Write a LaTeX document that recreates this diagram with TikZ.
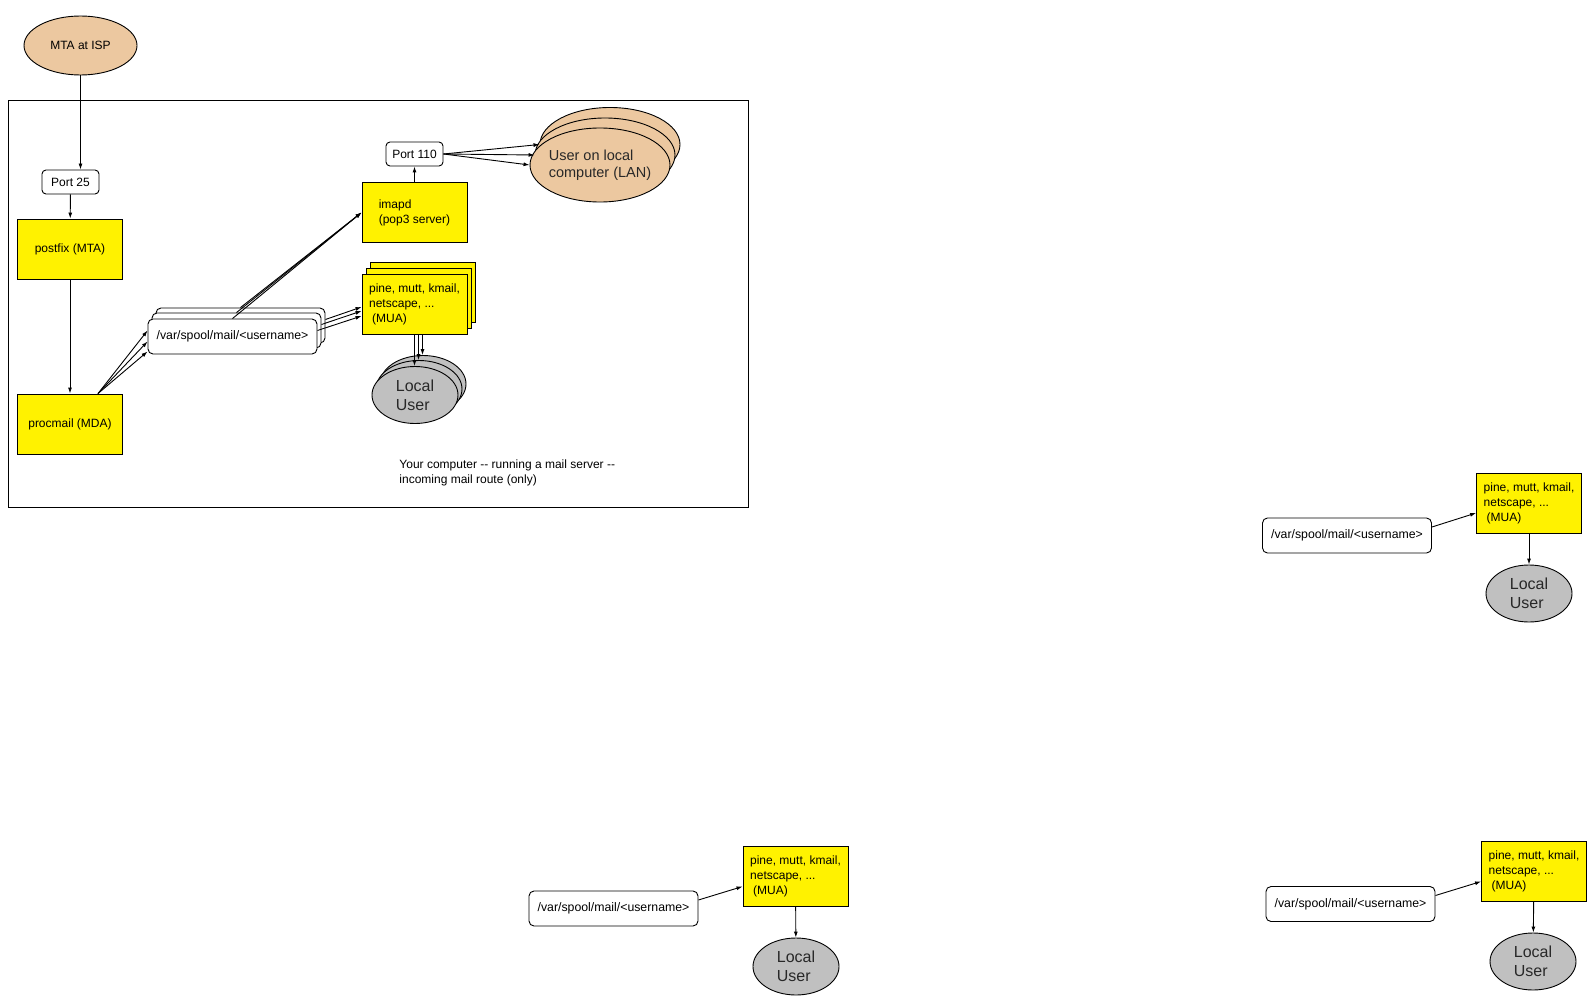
\documentclass[tikz,border=0pt]{standalone}
\usepackage{fontspec}
\setmainfont{Liberation Sans}
\usetikzlibrary{arrows.meta,shapes.geometric}
\definecolor{tan}{RGB}{236,200,160}
\definecolor{usergray}{RGB}{192,192,192}
\definecolor{ink}{RGB}{40,40,40}

\begin{document}
\begin{tikzpicture}[x=1pt,y=-1pt,line width=0.9pt]
	\tikzstyle{prog}=[rectangle,draw=black,fill=yellow,minimum width=105pt,minimum height=60pt,inner sep=0pt,align=left,font=\fontsize{12}{15}\selectfont]
	\tikzstyle{port}=[rectangle,rounded corners=4pt,draw=black,fill=white,minimum width=57pt,minimum height=24pt,inner sep=0pt,font=\fontsize{12}{15}\selectfont]
	\tikzstyle{spool}=[port,rounded corners=5pt,minimum width=169pt,minimum height=35pt,font=\fontsize{12.3}{15}\selectfont]
	\tikzstyle{user}=[ellipse,draw=black,fill=usergray,minimum width=86pt,minimum height=57pt,inner sep=0pt,align=left,text=ink,font=\fontsize{16}{19}\selectfont]
	\tikzstyle{lan}=[ellipse,draw=black,fill=tan,minimum width=140pt,minimum height=74pt,inner xsep=-2pt,inner ysep=0pt,align=left,text=ink,font=\fontsize{14.5}{17}\selectfont]
	\tikzstyle{arr}=[-{Latex[length=6pt,width=4pt]}]
	\useasboundingbox (0,0) rectangle (1596,1006);
	% your computer
	\draw (8,100) rectangle (748,507);
	\node[ellipse,draw=black,fill=tan,minimum width=113pt,minimum height=59pt,inner sep=0pt,font=\fontsize{12}{15}\selectfont] (isp) at (80.5,45.5) {MTA at ISP};
	\node[port] (p25) at (70.5,182) {Port 25};
	\node[prog,align=center] (postfix) at (70,249) {postfix (MTA)};
	\node[prog,align=center] (procmail) at (70,424) {procmail (MDA)};
	\node[spool] (spoolC) at (240.5,325.5) {};
	\node[spool] (spoolB) at (236.5,330.5) {};
	\node[spool] (spoolA) at (232.5,336.5) {/var/spool/mail/<username>};
	\node[prog] (imapd) at (414.5,212.5) {imapd\\(pop3 server)};
	\node[port] (p110) at (414.5,154) {Port 110};
	\node[prog] (mC) at (423,292) {};
	\node[prog] (mB) at (419,298) {};
	\node[prog] (mA) at (414.5,304) {pine, mutt, kmail,\\netscape, ...\\\hspace*{3pt}(MUA)};
	\node[user] (lC) at (423,384) {};
	\node[user] (lB) at (419,389) {};
	\node[user] (lA) at (415,395) {Local\\User};
	\node[lan] (lanC) at (610,144.5) {};
	\node[lan] (lanB) at (605,155) {};
	\node[lan] (lanA) at (600,165) {User on local\\computer (LAN)};
	\node[anchor=west,align=left,inner sep=0pt,font=\fontsize{12}{15}\selectfont] (caption) at (399,473) {Your computer -\kern0pt- running a mail server -\kern0pt-\\incoming mail route (only)};
	\draw[arr] (isp.south) -- (isp.south |- p25.north);
	\draw[arr] (p25) -- (postfix);
	\draw[arr] (postfix) -- (procmail);
	\foreach \dy in {6,-5,-15}
		\draw[arr] ([xshift=28pt]procmail.north) -- ([yshift=\dy pt]spoolA.west);
	\foreach \s in {spoolA,spoolB,spoolC}
		\draw[arr] (\s.north) -- (imapd.west);
	\foreach \s/\dy in {spoolA/-12,spoolB/-7,spoolC/-3}
		\draw[arr] ([yshift=6pt]\s.east) -- ([yshift=\dy pt]mA.west);
	\foreach \l/\dx in {lA/0,lB/4,lC/8}
		\draw[arr] ([xshift=\dx pt]mA.south) -- ([xshift=\dx pt]mA.south |- \l.north);
	\draw[arr] (imapd) -- (p110);
	\foreach \u in {lanA,lanB,lanC}
		\draw[arr] (p110.east) -- (\u.west);
	% single copies
	\node[spool] (s1) at (1347,535.5) {/var/spool/mail/<username>};
	\node[prog] (m1) at (1529,503) {pine, mutt, kmail,\\netscape, ...\\\hspace*{3pt}(MUA)};
	\node[user] (l1) at (1529,593.5) {Local\\User};
	\node[spool] (s2) at (613.5,908.5) {/var/spool/mail/<username>};
	\node[prog] (m2) at (795.5,876.5) {pine, mutt, kmail,\\netscape, ...\\\hspace*{3pt}(MUA)};
	\node[user] (l2) at (796,966.5) {Local\\User};
	\node[spool] (s3) at (1350.5,904) {/var/spool/mail/<username>};
	\node[prog] (m3) at (1534,871.5) {pine, mutt, kmail,\\netscape, ...\\\hspace*{3pt}(MUA)};
	\node[user] (l3) at (1533,961.5) {Local\\User};
	\draw[arr] ([yshift=8.5pt]s1.east) -- ([yshift=-10pt]m1.west);
	\draw[arr] (m1) -- (l1);
	\draw[arr] ([yshift=8.5pt]s2.east) -- ([yshift=-10pt]m2.west);
	\draw[arr] (m2) -- (l2);
	\draw[arr] ([yshift=8.5pt]s3.east) -- ([yshift=-10pt]m3.west);
	\draw[arr] (m3) -- (l3);
\end{tikzpicture}
\end{document}
